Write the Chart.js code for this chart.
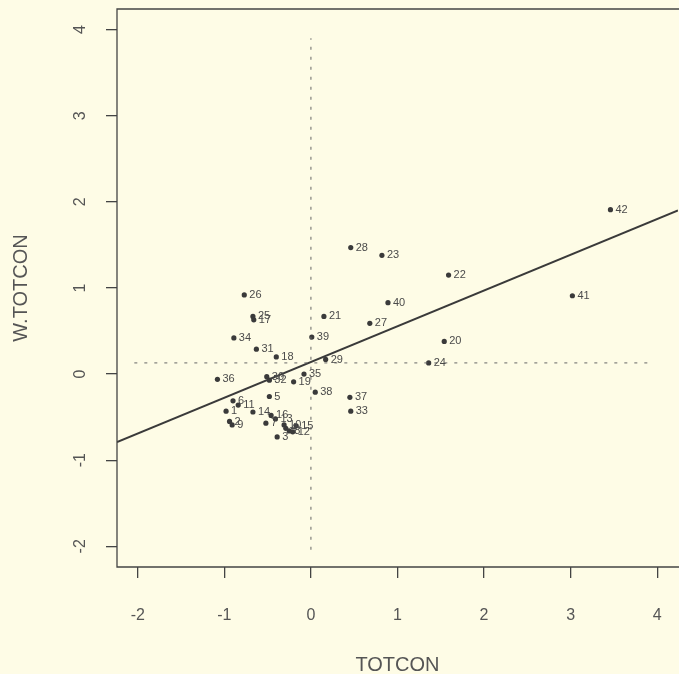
<!DOCTYPE html>
<html>
<head>
<meta charset="utf-8">
<script src="https://cdn.jsdelivr.net/npm/chart.js@4.4.1/dist/chart.umd.min.js"></script>
<style>
  html, body { margin: 0; padding: 0; background: #fefce6; overflow: hidden; }
  #wrap { width: 690px; height: 674px; }
</style>
</head>
<body>
<div id="wrap"><canvas id="moranChart" width="690" height="674"></canvas></div>
<script>
// region ids and their values
const ids = [1, 2, 3, 4, 5, 6, 7, 8, 9, 10, 11, 12, 13, 14, 15, 16, 17, 18, 19, 20, 21,
             22, 23, 24, 25, 26, 27, 28, 29, 30, 31, 32, 33, 34, 35, 36, 37, 38, 39, 40, 41, 42];
const totcon = [-0.98, -0.94, -0.39, -0.29, -0.48, -0.90, -0.52, -0.25, -0.91, -0.31, -0.84,
                -0.21, -0.41, -0.67, -0.17, -0.46, -0.66, -0.40, -0.20, 1.54, 0.15,
                1.59, 0.82, 1.36, -0.67, -0.77, 0.68, 0.46, 0.17, -0.51, -0.63,
                -0.48, 0.46, -0.89, -0.08, -1.08, 0.45, 0.05, 0.01, 0.89, 3.02, 3.46];
const wTotcon = [-0.43, -0.55, -0.73, -0.63, -0.26, -0.31, -0.57, -0.66, -0.59, -0.59, -0.36,
                 -0.67, -0.52, -0.44, -0.60, -0.48, 0.63, 0.20, -0.09, 0.38, 0.67,
                 1.15, 1.38, 0.13, 0.67, 0.92, 0.59, 1.47, 0.17, -0.03, 0.29,
                 -0.07, -0.43, 0.42, 0.00, -0.06, -0.27, -0.21, 0.43, 0.83, 0.91, 1.91];

const xTicks = [-2, -1, 0, 1, 2, 3, 4];
const yTicks = [-2, -1, 0, 1, 2, 3, 4];

// fitted line end points
const fitX = [-2.24, 4.24];
const fitY = [-0.79, 1.90];

// mean lines
const meanX = 0;
const meanY = 0.13;
const meanSpan = [-2.04, 3.9];

const ink = '#3a3a3a';
const textGrey = '#555555';

const boxAndLabels = {
    id: 'boxAndLabels',
    afterDatasetsDraw(chart) {
        const ctx = chart.ctx;
        const meta = chart.getDatasetMeta(3);
        ctx.save();
        ctx.fillStyle = '#4a4a4a';
        ctx.font = '11px "Liberation Sans", Arial, sans-serif';
        ctx.textAlign = 'left';
        ctx.textBaseline = 'middle';
        meta.data.forEach(function (pt, i) {
            ctx.fillText(String(ids[i]), pt.x + 5, pt.y);
        });
        ctx.restore();
    },
    afterDraw(chart) {
        const ctx = chart.ctx;
        const a = chart.chartArea;
        const y = chart.scales.y;
        ctx.save();
        // box: right side falls off the page in the original
        ctx.strokeStyle = '#444';
        ctx.lineWidth = 1.3;
        ctx.beginPath();
        ctx.moveTo(a.right + 10, a.top);
        ctx.lineTo(a.left, a.top);
        ctx.lineTo(a.left, a.bottom);
        ctx.lineTo(a.right + 10, a.bottom);
        ctx.stroke();

        // y tick labels, rotated like R
        ctx.fillStyle = textGrey;
        ctx.font = '16px "Liberation Sans", Arial, sans-serif';
        ctx.textAlign = 'center';
        ctx.textBaseline = 'middle';
        yTicks.forEach(function (v) {
            ctx.save();
            ctx.translate(81, y.getPixelForValue(v));
            ctx.rotate(-Math.PI / 2);
            ctx.fillText(String(v), 0, 0);
            ctx.restore();
        });

        // axis titles
        ctx.font = '20px "Liberation Sans", Arial, sans-serif';
        ctx.fillText('TOTCON', (a.left + a.right) / 2, 665);
        ctx.save();
        ctx.translate(21, (a.top + a.bottom) / 2);
        ctx.rotate(-Math.PI / 2);
        ctx.fillText('W.TOTCON', 0, 0);
        ctx.restore();
        ctx.restore();
    }
};

document.addEventListener('DOMContentLoaded', function () {
    const ctx = document.getElementById('moranChart').getContext('2d');

    const data = {
        datasets: [{
            type: 'line',
            data: meanSpan.map(function (v) { return { x: v, y: meanY }; }),
            borderColor: '#666',
            borderWidth: 1,
            borderDash: [3, 7],
            pointRadius: 0
        }, {
            type: 'line',
            data: meanSpan.map(function (v) { return { x: meanX, y: v }; }),
            borderColor: '#666',
            borderWidth: 1,
            borderDash: [3, 7],
            pointRadius: 0
        }, {
            type: 'line',
            data: fitX.map(function (v, i) { return { x: v, y: fitY[i] }; }),
            borderColor: ink,
            borderWidth: 2,
            pointRadius: 0
        }, {
            type: 'scatter',
            data: totcon.map(function (v, i) { return { x: v, y: wTotcon[i] }; }),
            backgroundColor: ink,
            borderColor: ink,
            borderWidth: 0,
            pointRadius: 2.6
        }]
    };

    const config = {
        type: 'scatter',
        data: data,
        options: {
            responsive: false,
            animation: false,
            layout: {
                padding: { top: 9, right: 9, left: 0, bottom: 0 }
            },
            scales: {
                x: {
                    type: 'linear',
                    min: -2.24,
                    max: 4.24,
                    afterBuildTicks: function (s) {
                        s.ticks = xTicks.map(function (v) { return { value: v }; });
                    },
                    afterFit: function (s) { s.height = 107; },
                    border: { display: false },
                    grid: {
                        drawOnChartArea: false,
                        drawTicks: true,
                        tickLength: 11,
                        color: '#444',
                        lineWidth: 1.3
                    },
                    ticks: {
                        color: textGrey,
                        padding: 28,
                        maxRotation: 0,
                        font: { family: '"Liberation Sans", Arial, sans-serif', size: 16 }
                    }
                },
                y: {
                    type: 'linear',
                    min: -2.24,
                    max: 4.24,
                    afterBuildTicks: function (s) {
                        s.ticks = yTicks.map(function (v) { return { value: v }; });
                    },
                    afterFit: function (s) { s.width = 117; },
                    border: { display: false },
                    grid: {
                        drawOnChartArea: false,
                        drawTicks: true,
                        tickLength: 11,
                        color: '#444',
                        lineWidth: 1.3
                    },
                    ticks: {
                        display: false
                    }
                }
            },
            plugins: {
                legend: { display: false },
                tooltip: { enabled: false }
            }
        },
        plugins: [boxAndLabels]
    };

    new Chart(ctx, config);
});
</script>
</body>
</html>
